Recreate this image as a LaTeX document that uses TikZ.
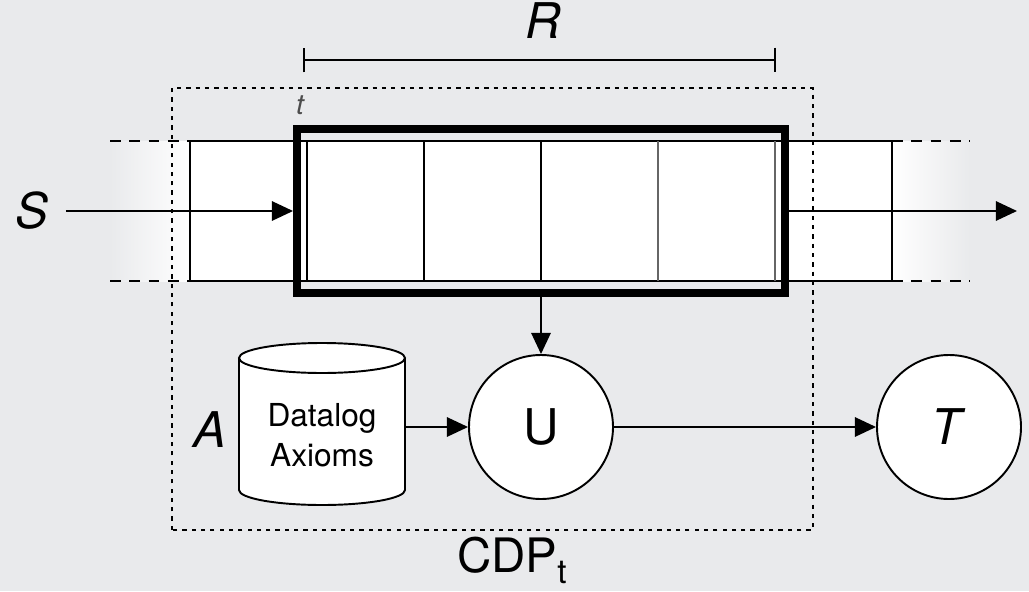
\documentclass[tikz,border=0pt]{standalone}
\usepackage{fontspec}
\setmainfont{TeX Gyre Heros}
\usepackage{tikz}
\usetikzlibrary{arrows.meta}
\definecolor{bgcol}{RGB}{233,234,236}

\begin{document}
\begin{tikzpicture}[line width=1.1pt,
	>={Triangle[length=12pt,width=11pt]},
	big/.style={font=\fontsize{28}{32}\selectfont},
	circ/.style={draw,circle,fill=white,minimum size=2.88cm,inner sep=0pt},
	cdpline/.style={line width=1pt,dash pattern=on 2.4pt off 2.9pt},
	fadeline/.style={dash pattern=on 6pt off 5pt}]
	\useasboundingbox[fill=bgcol] (0,0) rectangle (20.58,11.82);
	% stream
	\fill[white] (3.8,6.2) rectangle (17.84,9.0);
	\shade[left color=bgcol,right color=white] (2.2,6.2) rectangle (3.8,9.0);
	\shade[left color=white,right color=bgcol] (17.84,6.2) rectangle (19.4,9.0);
	\draw (3.8,9.0) -- (17.84,9.0);
	\draw (3.8,6.2) -- (17.84,6.2);
	\draw[fadeline] (2.2,9.0) -- (3.8,9.0);
	\draw[fadeline] (2.2,6.2) -- (3.8,6.2);
	\draw[fadeline] (17.84,9.0) -- (19.4,9.0);
	\draw[fadeline] (17.84,6.2) -- (19.4,6.2);
	\foreach \x in {3.8,6.14,8.48,10.82,17.84}
		\draw (\x,6.2) -- (\x,9.0);
	\foreach \x in {13.16,15.5}
		\draw[black!60] (\x,6.2) -- (\x,9.0);
	% CDP
	\draw[cdpline] (3.44,1.22) rectangle (16.26,10.06);
	\node[font=\fontsize{27}{32}\selectfont] (cdp) at (10.24,0.62) {CDP\raisebox{-0.45ex}{\fontsize{19}{20}\selectfont t}};
	% window
	\node[draw,line width=4.5pt,minimum width=9.76cm,minimum height=3.28cm] (win) at (10.82,7.6) {};
	\node[font=\fontsize{16}{18}\selectfont\itshape,text=black!70] (t) at (6.0,9.72) {t};
	\coordinate (r0) at (6.06,10.62);
	\coordinate (r1) at (15.52,10.62);
	\draw[{Bar[width=14pt]}-{Bar[width=14pt]}] (r0) -- (r1);
	\node[big] (R) at (10.86,11.4) {\textit{R}};
	\node[big] (S) at (0.64,7.6) {\textit{S}};
	\coordinate (out) at (20.34,7.6);
	% axioms
	\fill[white] (4.78,4.66) -- (4.78,2.02) arc[start angle=180,end angle=360,x radius=1.66cm,y radius=0.3cm] -- (8.1,4.66) arc[start angle=0,end angle=180,x radius=1.66cm,y radius=0.3cm] -- cycle;
	\draw (4.78,4.66) -- (4.78,2.02) arc[start angle=180,end angle=360,x radius=1.66cm,y radius=0.3cm] -- (8.1,4.66);
	\draw (6.44,4.66) ellipse[x radius=1.66cm,y radius=0.3cm];
	\node[align=center,minimum width=3.32cm,inner sep=0pt,font=\fontsize{18}{22.5}\selectfont] (ax) at (6.44,3.12) {Datalog\\Axioms};
	\node[big] (A) at (4.2,3.22) {\textit{A}};
	\node[circ,big] (U) at (10.82,3.28) {U};
	\node[circ,big] (T) at (18.98,3.28) {\textit{T}};
	\draw[->,shorten <=6pt] (S) -- (win.west);
	\draw[->] (win.east) -- (out);
	\draw[->] (win.south) -- (U.north);
	\draw[->] (ax.east |- U.west) -- (U.west);
	\draw[->] (U.east) -- (T.west);
\end{tikzpicture}
\end{document}
